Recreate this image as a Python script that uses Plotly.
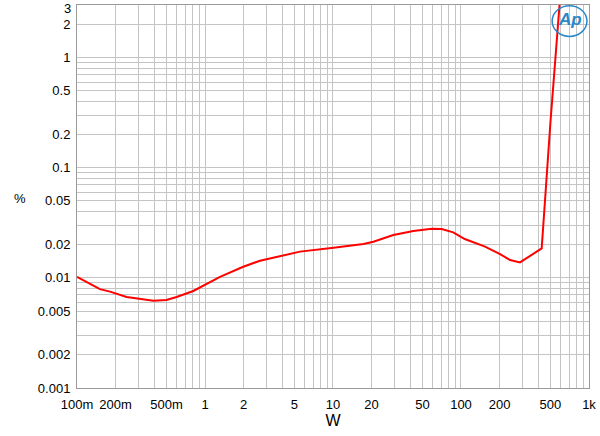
import plotly.graph_objects as go

# Data (power in W, THD+N in %)
power_w = [0.1, 0.151, 0.181, 0.244, 0.395, 0.50, 0.60, 0.81, 1.31, 1.99, 2.69,
           5.52, 10.1, 17.3, 20.7, 29.6, 42.4, 59, 70.6, 87, 107, 154, 202, 242,
           289, 427, 500, 600]
thd_pct = [0.0102, 0.0079, 0.0075, 0.0067, 0.0062, 0.0063, 0.0067, 0.0076, 0.0102,
           0.0126, 0.0143, 0.0173, 0.0188, 0.0203, 0.0213, 0.0245, 0.0266, 0.0279,
           0.0278, 0.0259, 0.0225, 0.0192, 0.0164, 0.0145, 0.0138, 0.0185, 0.26, 4.0]

x_label_vals = [0.1, 0.2, 0.5, 1, 2, 5, 10, 20, 50, 100, 200, 500, 1000]
x_label_text = ["100m", "200m", "500m", "1", "2", "5", "10", "20", "50", "100", "200", "500", "1k"]
y_label_vals = [0.001, 0.002, 0.005, 0.01, 0.02, 0.05, 0.1, 0.2, 0.5, 1, 2]
y_label_text = ["0.001", "0.002", "0.005", "0.01", "0.02", "0.05", "0.1", "0.2", "0.5", "1", "2"]
y_top_value = 3
y_top_label = "3"

def grid_vals(decades, extra_max):
    vals = []
    for d in decades:
        for m in range(1, 10):
            v = round(m * 10 ** d, 6)
            if v <= extra_max:
                vals.append(v)
    return vals

xgrid = grid_vals([-1, 0, 1, 2, 3], 1000)
ygrid = grid_vals([-3, -2, -1, 0], 3)

def texts(grid, vals, labels):
    out = []
    for g in grid:
        t = ""
        for v, l in zip(vals, labels):
            if abs(g - v) < 1e-9 * max(1, v):
                t = l
        out.append(t)
    return out

fig = go.Figure()
fig.add_trace(go.Scatter(x=power_w, y=thd_pct, mode="lines",
                         line=dict(color="#ff0000", width=2), showlegend=False))

fig.update_layout(
    width=600, height=436,
    margin=dict(l=77, r=11, t=5, b=48),
    paper_bgcolor="white", plot_bgcolor="white",
    font=dict(family="Liberation Sans, Arial", size=13, color="#000"),
)
fig.update_xaxes(type="log", range=[-1, 3.0001], tickmode="array", tickvals=xgrid,
                 ticktext=texts(xgrid, x_label_vals, x_label_text),
                 showgrid=True, gridcolor="#c4c4c4", gridwidth=1,
                 showline=True, linecolor="#9a9a9a", mirror=True,
                 ticks="outside", ticklen=4, tickcolor="rgba(0,0,0,0)",
                 ticklabeloverflow="allow",
                 title=dict(text="W", standoff=2), zeroline=False, automargin=False)
fig.update_yaxes(type="log", range=[-3, 0.47722], tickmode="array", tickvals=ygrid,
                 ticktext=texts(ygrid, y_label_vals, y_label_text),
                 showgrid=True, gridcolor="#c4c4c4", gridwidth=1,
                 showline=True, linecolor="#9a9a9a", mirror=True,
                 ticks="outside", ticklen=3, tickcolor="rgba(0,0,0,0)",
                 ticklabeloverflow="allow",
                 zeroline=False, automargin=False)
# top tick label kept inside the page
fig.add_annotation(text=y_top_label, xref="paper", yref="y", x=0, y=0.4771,
                   xanchor="right", yanchor="top", xshift=-4, yshift=6,
                   showarrow=False, font=dict(size=13))
fig.add_annotation(text="%", xref="paper", yref="paper", x=-0.112, y=0.495,
                   showarrow=False, xanchor="center", yanchor="middle",
                   font=dict(size=13))
fig.add_annotation(text="<b><i>Ap</i></b>", xref="paper", yref="paper", x=0.962, y=0.962,
                   showarrow=False, xanchor="center", yanchor="middle",
                   font=dict(size=17, color="#2a88c8", family="Liberation Sans"))
fig.add_shape(type="circle", xref="paper", yref="paper", x0=0.928, x1=0.996,
              y0=0.918, y1=0.998, line=dict(color="#2a88c8", width=1.5))

fig.write_html("out.html", config={"displayModeBar": False},
               post_script="document.body.style.margin='0';document.body.style.padding='0';")
